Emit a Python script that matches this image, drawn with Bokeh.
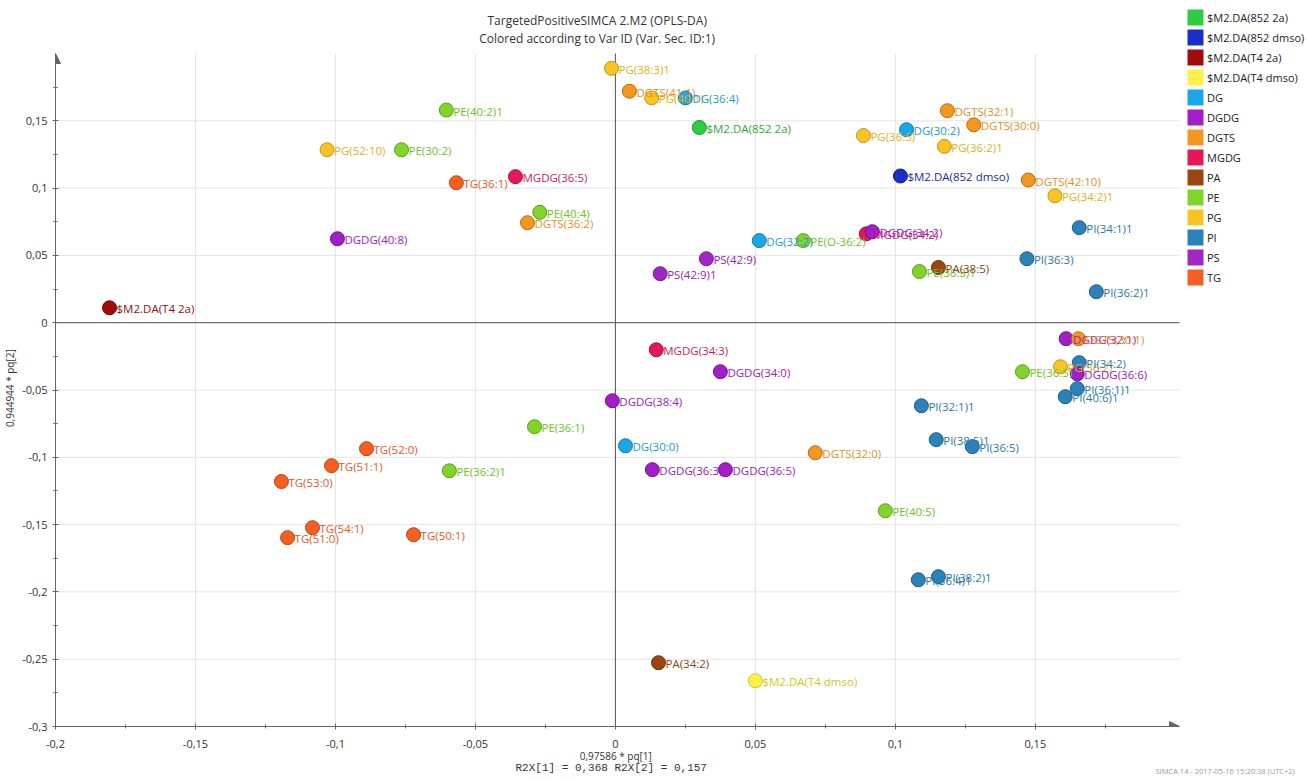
from bokeh.plotting import figure
from bokeh.models import (Range1d, FixedTicker, CustomJSTickFormatter, Arrow,
                          NormalHead, Legend, LegendItem, Title, Label, ColumnDataSource)
from bokeh.transform import factor_cmap
from bokeh.core.properties import value
from bokeh.embed import file_html
from bokeh.resources import INLINE

# ---------------- data ----------------
classes = ["$M2.DA(852 2a)", "$M2.DA(852 dmso)", "$M2.DA(T4 2a)", "$M2.DA(T4 dmso)",
           "DG", "DGDG", "DGTS", "MGDG", "PA", "PE", "PG", "PI", "PS", "TG"]

names = ["PG(38:3)1", "DGTS(41:1)", "PG(40:1)", "DG(36:4)", "$M2.DA(852 2a)",
         "PE(40:2)1", "PG(52:10)", "PE(30:2)", "TG(36:1)", "MGDG(36:5)",
         "PE(40:4)", "DGTS(36:2)", "DGDG(40:8)", "$M2.DA(T4 2a)", "PS(42:9)",
         "PS(42:9)1", "DG(32:2)", "PE(O-36:2)", "MGDG(34:2)", "DGDG(34:2)",
         "PG(36:5)", "DG(30:2)", "DGTS(32:1)", "DGTS(30:0)", "PG(36:2)1",
         "$M2.DA(852 dmso)", "DGTS(42:10)", "PG(34:2)1", "PI(34:1)1", "PI(36:3)",
         "PI(36:2)1", "PE(36:3)1", "PA(38:5)", "DGDG(32:1)", "DGTS(30:1)",
         "PE(36:5)", "PG(36:2)", "PI(34:2)", "DGDG(36:6)", "PI(36:1)1",
         "PI(40:6)1", "MGDG(34:3)", "DGDG(34:0)", "DGDG(38:4)", "PE(36:1)",
         "DG(30:0)", "TG(52:0)", "TG(51:1)", "PE(36:2)1", "DGDG(36:3)",
         "DGDG(36:5)", "DGTS(32:0)", "TG(53:0)", "TG(54:1)", "TG(51:0)",
         "TG(50:1)", "PE(40:5)", "PI(32:1)1", "PI(38:5)1", "PI(36:5)",
         "PI(36:4)1", "PI(38:2)1", "PA(34:2)", "$M2.DA(T4 dmso)"]

point_class = ["PG", "DGTS", "PG", "DG", "$M2.DA(852 2a)",
               "PE", "PG", "PE", "TG", "MGDG",
               "PE", "DGTS", "DGDG", "$M2.DA(T4 2a)", "PS",
               "PS", "DG", "PE", "MGDG", "DGDG",
               "PG", "DG", "DGTS", "DGTS", "PG",
               "$M2.DA(852 dmso)", "DGTS", "PG", "PI", "PI",
               "PI", "PE", "PA", "DGDG", "DGTS",
               "PE", "PG", "PI", "DGDG", "PI",
               "PI", "MGDG", "DGDG", "DGDG", "PE",
               "DG", "TG", "TG", "PE", "DGDG",
               "DGDG", "DGTS", "TG", "TG", "TG",
               "TG", "PE", "PI", "PI", "PI",
               "PI", "PI", "PA", "$M2.DA(T4 dmso)"]

pq1 = [-0.0014, 0.005, 0.013, 0.025, 0.030,
       -0.0604, -0.103, -0.0764, -0.0568, -0.0357,
       -0.027, -0.0314, -0.0993, -0.1807, 0.0325,
       0.016, 0.0514, 0.0671, 0.0896, 0.0918,
       0.0886, 0.104, 0.1186, 0.128, 0.1175,
       0.1018, 0.1475, 0.157, 0.1657, 0.147,
       0.1718, 0.1086, 0.1154, 0.161, 0.1654,
       0.1454, 0.159, 0.1657, 0.165, 0.165,
       0.1607, 0.0146, 0.0375, -0.0011, -0.0289,
       0.0036, -0.0889, -0.1014, -0.0593, 0.0132,
       0.0393, 0.0714, -0.1193, -0.1082, -0.1171,
       -0.0721, 0.0964, 0.1093, 0.1146, 0.1275,
       0.1082, 0.1154, 0.0154, 0.050]

pq2 = [0.189, 0.172, 0.167, 0.167, 0.145,
       0.158, 0.1285, 0.1285, 0.104, 0.1085,
       0.082, 0.0743, 0.0624, 0.0111, 0.0475,
       0.0364, 0.061, 0.061, 0.066, 0.0676,
       0.139, 0.1434, 0.1575, 0.147, 0.131,
       0.109, 0.106, 0.0943, 0.0706, 0.0475,
       0.023, 0.038, 0.041, -0.0119, -0.0119,
       -0.0364, -0.0327, -0.0297, -0.038, -0.049,
       -0.055, -0.0201, -0.0364, -0.058, -0.0773,
       -0.0914, -0.0936, -0.1062, -0.110, -0.1092,
       -0.1092, -0.0966, -0.118, -0.1523, -0.1597,
       -0.1575, -0.1397, -0.0617, -0.0869, -0.0921,
       -0.191, -0.1887, -0.2526, -0.266]

x_major_ticks = [-0.2, -0.15, -0.1, -0.05, 0.0, 0.05, 0.1, 0.15]
x_minor_ticks = [-0.175, -0.125, -0.075, -0.025, 0.025, 0.075, 0.125, 0.175]
y_major_ticks = [-0.3, -0.25, -0.2, -0.15, -0.1, -0.05, 0.0, 0.05, 0.1, 0.15]
y_minor_ticks = [-0.275, -0.225, -0.175, -0.125, -0.075, -0.025, 0.025, 0.075, 0.125, 0.175]

x_label = "0,97586 * pq[1]"
y_label = "0,944944 * pq[2]"
r2x_text = "R2X[1] = 0,368 R2X[2] = 0,157"
title1 = "TargetedPositiveSIMCA 2.M2 (OPLS-DA)"
title2 = "Colored according to Var ID (Var. Sec. ID:1)"
footer = "SIMCA 14 - 2017-05-16 15:20:38 (UTC+2)"

# ---------------- styles ----------------
fill_cols = ["#2ecc40", "#1a2fc9", "#a30a0a", "#fff04a",
             "#1aa7e8", "#a21ec8", "#f5961e", "#e3175a", "#9b4513", "#80d42a",
             "#f7c325", "#2b82b8", "#a126c4", "#f55f22"]
line_cols = ["#1e8f2c", "#0c1a80", "#6e0505", "#d8c21a",
             "#1078a8", "#70128c", "#b86a0e", "#a00f3e", "#6a2e0b", "#58a018",
             "#c29510", "#1b5a85", "#6f1889", "#b84016"]
text_cols = ["#27a83a", "#1a2aa0", "#8a1010", "#d8c21a",
             "#1a98d0", "#9a20b8", "#e0901c", "#d0185a", "#8a4212", "#6cc21e",
             "#e0b020", "#2a78a8", "#9a22b8", "#e8561e"]

FONT = "Open Sans"
NBSP = "\u00a0"
X0, X1 = -0.2, 0.2015          # plotted area of the axes
Y0, Y1 = -0.3, 0.2
PLOT_W, PLOT_H = 1124, 673      # pixel size of the axes area
PXX = (X1 - X0) / PLOT_W
PXY = (Y1 - Y0) / PLOT_H
RIGHT_PAD, TOP_PAD = 129, 53    # room for legend / titles inside the frame

p = figure(width=1308, height=780,
           x_range=Range1d(X0, X1 + RIGHT_PAD * PXX),
           y_range=Range1d(Y0, Y1 + TOP_PAD * PXY),
           output_backend="svg", toolbar_location=None, title=None,
           min_border_left=55, min_border_right=0, min_border_top=0,
           min_border_bottom=54, background_fill_color="white",
           border_fill_color="white", outline_line_color=None)
p.xgrid.visible = False
p.ygrid.visible = False

tick_fmt = CustomJSTickFormatter(code="""
var v = Math.round(tick*1000)/1000;
if (Math.abs(v) < 1e-9) { return "0"; }
return v.toString().replace(".", ",");
""")

p.xaxis.ticker = FixedTicker(ticks=x_major_ticks, minor_ticks=x_minor_ticks)
p.yaxis.ticker = FixedTicker(ticks=y_major_ticks, minor_ticks=y_minor_ticks)
p.xaxis.bounds = (X0, X1)
p.yaxis.bounds = (Y0, Y1)

for ax in (p.xaxis, p.yaxis):
    ax.formatter = tick_fmt
    ax.axis_line_color = "#666666"
    ax.major_tick_line_color = "#666666"
    ax.minor_tick_line_color = "#666666"
    ax.major_tick_in = 3
    ax.major_tick_out = 3
    ax.minor_tick_in = 2
    ax.minor_tick_out = 2
    ax.major_label_text_font = FONT
    ax.major_label_text_font_size = "11px"
    ax.major_label_text_color = "#333333"
    ax.axis_label_text_font = FONT
    ax.axis_label_text_font_size = "10px"
    ax.axis_label_text_font_style = "normal"
    ax.axis_label_text_color = "#333333"

p.xaxis.major_label_standoff = 10
p.xaxis.axis_label_standoff = -2
p.yaxis.major_label_standoff = 5
p.yaxis.axis_label_standoff = 2
# axis labels are centred on the whole frame; trailing no-break spaces move the
# visible text back to the centre of the axes area
p.xaxis.axis_label = x_label + NBSP * 51
p.yaxis.axis_label = y_label + NBSP * 19

# grid lines limited to the axes area
nx, ny = len(x_major_ticks), len(y_major_ticks)
p.segment(x0=x_major_ticks, y0=[Y0] * nx, x1=x_major_ticks, y1=[Y1] * nx,
          line_color="#e4e4e4", line_width=1)
p.segment(x0=[X0] * ny, y0=y_major_ticks, x1=[X1] * ny, y1=y_major_ticks,
          line_color="#e4e4e4", line_width=1)
# zero lines
p.segment(x0=[0.0, X0], y0=[Y0, 0.0], x1=[0.0, X1], y1=[Y1, 0.0],
          line_color="#555555", line_width=1)

# axis arrows
p.add_layout(Arrow(end=NormalHead(size=10, fill_color="#666666", line_color="#666666"),
                   x_start=X0, y_start=0.185, x_end=X0, y_end=Y1,
                   line_color="#666666", line_width=1))
p.add_layout(Arrow(end=NormalHead(size=10, fill_color="#666666", line_color="#666666"),
                   x_start=0.19, y_start=Y0, x_end=X1, y_end=Y0,
                   line_color="#666666", line_width=1))

src = ColumnDataSource(dict(x=pq1, y=pq2, name=names, cls=point_class))
p.scatter("x", "y", source=src, size=14, marker="circle",
          fill_color=factor_cmap("cls", fill_cols, classes),
          line_color=factor_cmap("cls", line_cols, classes), line_width=1)
p.text("x", "y", text="name", source=src, x_offset=7, y_offset=1,
       text_baseline="middle", text_align="left",
       text_font=value(FONT), text_font_size="11.5px",
       text_color=factor_cmap("cls", text_cols, classes))

# legend with square swatches (zero-area quads at each class's first point)
items = []
for c, col in zip(classes, fill_cols):
    i = point_class.index(c)
    r = p.quad(left=[pq1[i]], right=[pq1[i]], top=[pq2[i]], bottom=[pq2[i]],
               fill_color=col, line_color=None)
    items.append(LegendItem(label=c, renderers=[r]))
legend = Legend(items=items, location=(PLOT_W + 6, PLOT_H + TOP_PAD - 7 - 20 * len(classes)),
                glyph_width=20, glyph_height=20,
                label_height=20, spacing=0, padding=0, margin=0, label_standoff=2,
                label_text_font=FONT, label_text_font_size="11px",
                label_text_color="#222222", border_line_color=None,
                background_fill_alpha=0)
p.add_layout(legend)

# titles (inside the top strip of the frame)
p.add_layout(Label(x=-0.0065, y=Y1 + 33 * PXY, text=title1, text_align="center",
                   text_baseline="middle", text_font=FONT, text_font_size="12px",
                   text_color="#333333"))
p.add_layout(Label(x=-0.0065, y=Y1 + 15 * PXY, text=title2, text_align="center",
                   text_baseline="middle", text_font=FONT, text_font_size="12px",
                   text_color="#333333"))

# texts under the x axis
p.add_layout(Title(text=r2x_text, align="left", offset=460, text_font="Liberation Mono",
                   text_font_size="11px", text_font_style="normal",
                   text_color="#333333", standoff=-11), "below")
p.add_layout(Title(text=footer, align="left", offset=1100, text_font=FONT,
                   text_font_size="7.5px", text_font_style="normal",
                   text_color="#999999", standoff=-9), "below")

open("out.html", "w").write(file_html(p, INLINE))
